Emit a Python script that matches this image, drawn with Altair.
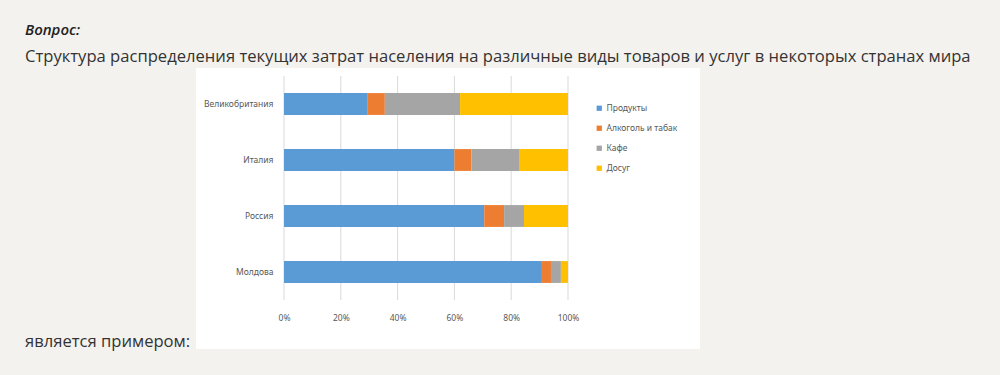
import altair as alt
import pandas as pd

countries = ["Великобритания", "Италия", "Россия", "Молдова"]
categories = ["Продукты", "Алкоголь и табак", "Кафе", "Досуг"]
products = [29.5, 60, 70.5, 90.5]
alcohol = [6, 6, 7, 3.5]
cafe = [26.5, 17, 7, 3.5]
leisure = [38, 17, 15.5, 2.5]
ticks = [0, 20, 40, 60, 80, 100]
colors = ["#5B9BD5", "#ED7D31", "#A5A5A5", "#FFC000"]

series = [products, alcohol, cafe, leisure]
rows = []
for ci, cat in enumerate(categories):
    for i, c in enumerate(countries):
        rows.append({"country": c, "category": cat, "value": series[ci][i], "order": ci})
df = pd.DataFrame(rows)

W, H = 284, 224
LEFT, TOP = 284, 76

box = alt.Chart(pd.DataFrame({"a": [0]})).mark_rect(color="white").encode(
    x=alt.value(196 - LEFT), x2=alt.value(700 - LEFT),
    y=alt.value(68 - TOP), y2=alt.value(349 - TOP))

grid = alt.Chart(pd.DataFrame({"t": ticks})).mark_rule(color="#d9d9d9", strokeWidth=1).encode(
    x=alt.X("t:Q", scale=alt.Scale(domain=[0, 100])),
    y=alt.value(0), y2=alt.value(H))

bars = alt.Chart(df).mark_bar().encode(
    x=alt.X("value:Q", stack="zero", scale=alt.Scale(domain=[0, 100]),
            axis=alt.Axis(values=ticks, labelExpr="datum.value + '%'", grid=False, labelFlush=False,
                          domain=False, ticks=False, title=None, labelPadding=13, zindex=2,
                          labelFontSize=8.5, labelColor="#595959", labelFont="Noto Sans")),
    y=alt.Y("country:N", sort=countries, scale=alt.Scale(paddingInner=0.61, paddingOuter=0.305),
            axis=alt.Axis(domain=False, ticks=False, title=None, labelPadding=11, zindex=2,
                          labelFontSize=8.5, labelColor="#595959", labelFont="Noto Sans")),
    color=alt.Color("category:N", scale=alt.Scale(domain=categories, range=colors),
                    legend=alt.Legend(orient="none", legendX=311, legendY=28, title=None,
                                      symbolType="square", symbolSize=28, symbolStrokeWidth=0,
                                      labelFontSize=8.5, labelColor="#595959", labelFont="Noto Sans",
                                      rowPadding=11, labelOffset=3)),
    order=alt.Order("order:Q"))

def txt(s, x, y, size, weight="normal", style="normal", color="#333333"):
    return alt.Chart(pd.DataFrame({"a": [0]})).mark_text(
        text=s, align="left", baseline="alphabetic", fontSize=size, fontWeight=weight,
        fontStyle=style, color=color, font="Open Sans").encode(
        x=alt.value(x - LEFT), y=alt.value(y - TOP))

t1 = txt("Вопрос:", 25, 35, 15, weight=600, style="italic", color="#222222")
t2 = txt("Структура распределения текущих затрат населения на различные виды товаров и услуг в некоторых странах мира",
         25, 62, 16.6)
t3 = txt("является примером:", 25, 347, 16.6)

chart = alt.layer(box, grid, bars, t1, t2, t3).properties(
    width=W, height=H,
    padding={"left": LEFT, "top": TOP, "right": 1000 - LEFT - W, "bottom": 375 - TOP - H},
    autosize=alt.AutoSizeParams(type="none"),
    background="#f3f2ef",
).configure_view(stroke=None)

chart.save("out.html", embed_options={"renderer": "svg", "actions": False})
